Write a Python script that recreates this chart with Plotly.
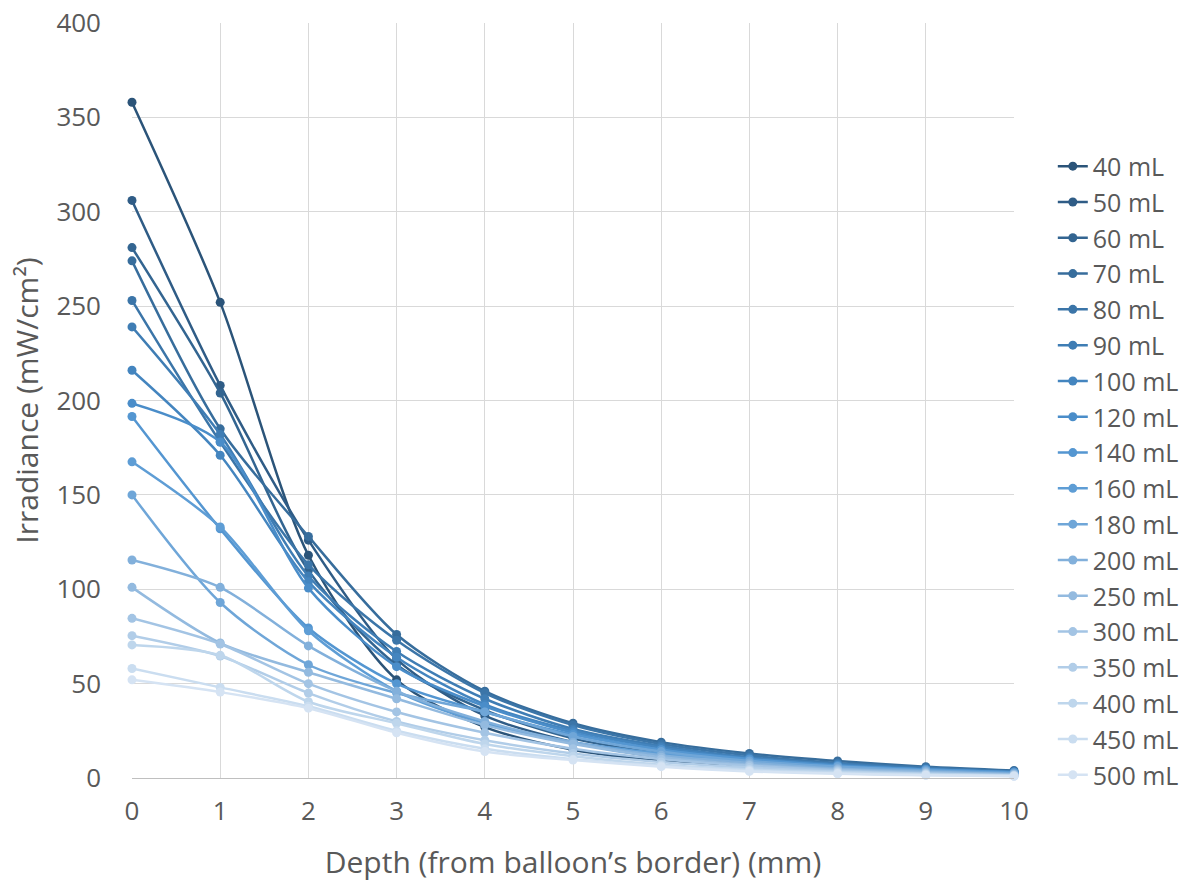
import plotly.graph_objects as go

depth = [0, 1, 2, 3, 4, 5, 6, 7, 8, 9, 10]
volumes = ["40 mL", "50 mL", "60 mL", "70 mL", "80 mL", "90 mL", "100 mL", "120 mL", "140 mL",
           "160 mL", "180 mL", "200 mL", "250 mL", "300 mL", "350 mL", "400 mL", "450 mL", "500 mL"]

irr_40 = [358, 252, 118, 52, 27, 15, 9, 6, 4, 3, 2]
irr_50 = [306, 208, 126, 63, 33, 19, 11, 7, 5, 3, 2]
irr_60 = [281, 204, 110, 60, 36, 21, 13, 8, 5, 3.5, 2.5]
irr_70 = [274, 185, 128, 76, 46, 29, 19, 13, 9, 6, 4]
irr_80 = [253, 178, 113, 73, 45, 28, 18, 12, 8, 5.5, 3.5]
irr_90 = [239, 182, 107, 67, 42, 26, 17, 11, 7.5, 5, 3]
irr_100 = [216, 171, 104, 64, 39, 25, 16, 10.5, 7, 4.5, 3]
irr_120 = [198.5, 178, 100.6, 59, 38, 24, 15, 10, 6.5, 4.5, 3]
irr_140 = [191.5, 132, 79.5, 50, 35, 23, 15, 10, 6.5, 4.5, 3]
irr_160 = [167.5, 133, 78, 46, 29, 19, 13, 8.5, 6, 4, 2.5]
irr_180 = [150, 93, 60, 45, 35, 22, 14, 9, 6, 4, 2.5]
irr_200 = [115.5, 101, 70, 46, 30, 19, 12, 8, 5, 3.5, 2]
irr_250 = [101, 71.5, 56, 42, 28, 18, 11, 7, 4.5, 3, 2]
irr_300 = [84.6, 71, 50, 35, 24, 15.5, 10, 6.5, 4, 2.5, 1.5]
irr_350 = [75.4, 64.6, 45, 30, 20, 13, 8.5, 5.5, 3.5, 2.2, 1.4]
irr_400 = [70.5, 65, 40.4, 29, 18, 11.5, 7, 4.5, 3, 2, 1.2]
irr_450 = [58, 48, 38, 25, 15.5, 10, 6.5, 4, 2.5, 1.6, 1]
irr_500 = [52, 45.5, 37, 24, 14, 9.5, 6, 3.5, 2.2, 1.4, 0.9]

series = [irr_40, irr_50, irr_60, irr_70, irr_80, irr_90, irr_100, irr_120, irr_140,
          irr_160, irr_180, irr_200, irr_250, irr_300, irr_350, irr_400, irr_450, irr_500]

colors = ["#2B5479", "#2F5C86", "#336591", "#376D9C", "#3B75A8", "#3F7DB4", "#4485BF", "#4A8DC9",
          "#5496D1", "#5E9DD5", "#6FA6D8", "#82B0DB", "#93BADF", "#A3C4E4", "#B1CDE8", "#BED6EC",
          "#CADDF0", "#D5E3F3"]

fig = go.Figure()
for name, vals, col in zip(volumes, series, colors):
    fig.add_trace(go.Scatter(
        x=depth, y=vals, name=name, mode="lines+markers",
        line=dict(color=col, width=2.5, shape="spline", smoothing=0.8),
        marker=dict(color=col, size=9),
        cliponaxis=False, legendgroup=name,
    ))

font_family = "Open Sans, Liberation Sans, sans-serif"
fig.update_layout(
    width=1204, height=886,
    margin=dict(l=132, r=190, t=23, b=108, autoexpand=False),
    plot_bgcolor="white", paper_bgcolor="white",
    font=dict(family=font_family, color="#595959", size=25),
    legend=dict(x=1.044, y=0.8405, xanchor="left", yanchor="top",
                font=dict(size=25, color="#595959"), tracegroupgap=0.3,
                itemwidth=30, bgcolor="rgba(0,0,0,0)"),
    xaxis=dict(range=[0, 10], dtick=1, tick0=0, showgrid=True, gridcolor="#D9D9D9", gridwidth=1,
               zeroline=False, showline=True, linecolor="#BFBFBF", linewidth=1, automargin=False,
               ticks="", ticklabelstandoff=10, ticklabeloverflow="allow",
               tickfont=dict(size=26, color="#595959"),
               title=dict(text="Depth (from balloon’s border) (mm)", font=dict(size=30, color="#595959"),
                          standoff=24)),
    yaxis=dict(range=[0, 400], dtick=50, tick0=0, showgrid=True, gridcolor="#D9D9D9", gridwidth=1,
               zeroline=False, showline=False, ticks="", automargin=False, ticklabelstandoff=30,
               ticklabeloverflow="allow", tickfont=dict(size=26, color="#595959"),
               title=dict(text="Irradiance (mW/cm²)", font=dict(size=30, color="#595959"),
                          standoff=8)),
)

fig.write_html("out.html", config={"displayModeBar": False},
               post_script="document.body.style.margin='0';")
